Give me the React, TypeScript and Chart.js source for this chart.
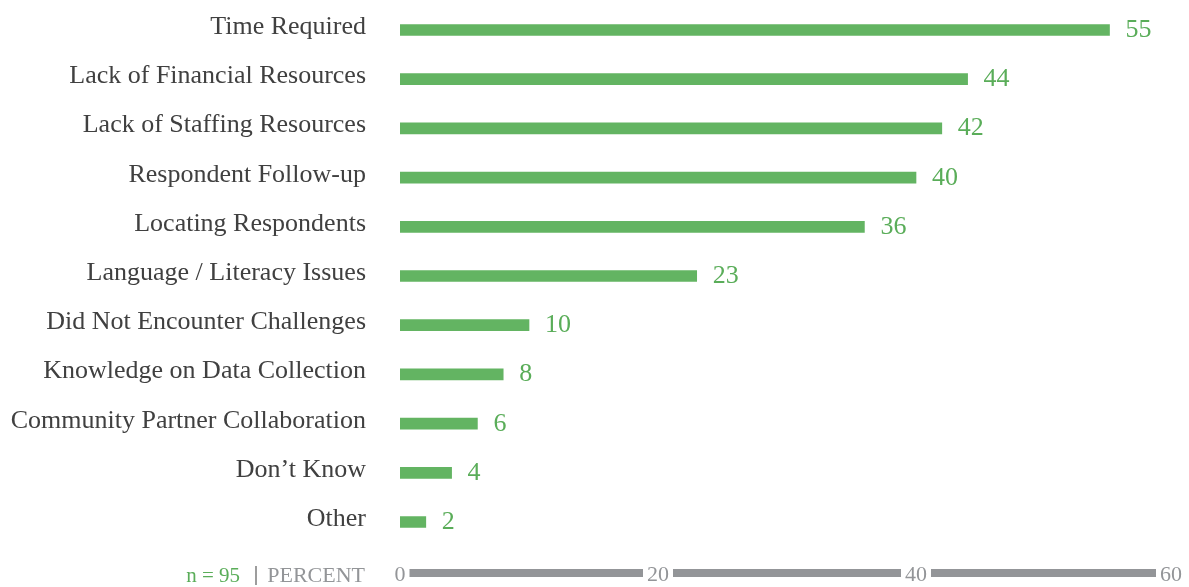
import React, { useEffect, useRef } from "react";
import { Chart, registerables } from "chart.js";

Chart.register(...registerables);

const categories = [
  "Time Required",
  "Lack of Financial Resources",
  "Lack of Staffing Resources",
  "Respondent Follow-up",
  "Locating Respondents",
  "Language / Literacy Issues",
  "Did Not Encounter Challenges",
  "Knowledge on Data Collection",
  "Community Partner Collaboration",
  "Don\u2019t Know",
  "Other",
];
const values = [55, 44, 42, 40, 36, 23, 10, 8, 6, 4, 2];
const xTicks = [0, 20, 40, 60];
const sampleLabel = "n = 95";
const unitLabel = "PERCENT";

const GREEN = "#63b462";
const LABEL_GREEN = "#5aad59";
const GRAY = "#939598";
const TEXT = "#404040";
const FONT = "'Liberation Serif', 'DejaVu Serif', serif";

const customPlugin = {
  id: "customDraw",
  afterDatasetsDraw(chart: any) {
    const ctx = chart.ctx;
    const meta = chart.getDatasetMeta(0);
    ctx.save();
    ctx.textBaseline = "alphabetic";
    meta.data.forEach((bar: any, i: number) => {
      ctx.font = `26px ${FONT}`;
      ctx.fillStyle = TEXT;
      ctx.textAlign = "right";
      ctx.fillText(categories[i], 366, bar.y + 4);
      ctx.font = `26px ${FONT}`;
      ctx.fillStyle = LABEL_GREEN;
      ctx.textAlign = "left";
      ctx.fillText(String(values[i]), bar.x + 16, bar.y + 7);
    });
    ctx.restore();
  },
  afterDraw(chart: any) {
    const ctx = chart.ctx;
    const xs = chart.scales.x;
    const yMid = 575;
    ctx.save();
    ctx.textBaseline = "middle";
    ctx.font = `22px ${FONT}`;
    const boxes: { l: number; r: number }[] = [];
    xTicks.forEach((v) => {
      const label = String(v);
      const w = ctx.measureText(label).width;
      let cx = xs.getPixelForValue(v);
      if (cx + w / 2 > chart.width - 7) cx = chart.width - 7 - w / 2;
      ctx.fillStyle = GRAY;
      ctx.textAlign = "center";
      ctx.fillText(label, cx, yMid);
      boxes.push({ l: cx - w / 2, r: cx + w / 2 });
    });
    ctx.fillStyle = GRAY;
    for (let i = 0; i < boxes.length - 1; i++) {
      const x0 = boxes[i].r + 4;
      const x1 = boxes[i + 1].l - 4;
      ctx.fillRect(x0, 569, x1 - x0, 8);
    }
    ctx.font = `22px ${FONT}`;
    ctx.textAlign = "right";
    ctx.fillStyle = GRAY;
    ctx.fillText(unitLabel, 365, yMid + 1);
    ctx.font = `20px ${FONT}`;
    ctx.fillStyle = TEXT;
    ctx.textAlign = "center";
    ctx.fillText("|", 256, yMid);
    ctx.font = `21px ${FONT}`;
    ctx.fillStyle = LABEL_GREEN;
    ctx.textAlign = "right";
    ctx.fillText(sampleLabel, 240, yMid + 1);
    ctx.restore();
  },
};

export default function App() {
  const canvasRef = useRef<HTMLCanvasElement | null>(null);

  useEffect(() => {
    if (!canvasRef.current) return;
    const chart = new Chart(canvasRef.current, {
      type: "bar",
      data: {
        labels: categories,
        datasets: [
          {
            data: values,
            backgroundColor: GREEN,
            borderWidth: 0,
            barThickness: 11,
          },
        ],
      },
      options: {
        indexAxis: "y",
        animation: false,
        responsive: true,
        maintainAspectRatio: false,
        layout: { padding: { top: 5.4, bottom: 40.4, right: 15, left: 0 } },
        plugins: {
          legend: { display: false },
          tooltip: { enabled: false },
        },
        scales: {
          x: {
            min: 0,
            max: 60,
            display: false,
            grid: { display: false },
          },
          y: {
            grid: { display: false, drawTicks: false },
            border: { display: false },
            ticks: { display: false },
            afterFit: (scale: any) => {
              scale.width = 400;
            },
          },
        },
      },
      plugins: [customPlugin],
    });
    return () => chart.destroy();
  }, []);

  return (
    <div style={{ position: "absolute", left: 0, top: 0, width: 1189, height: 587 }}>
      <canvas ref={canvasRef} />
    </div>
  );
}
